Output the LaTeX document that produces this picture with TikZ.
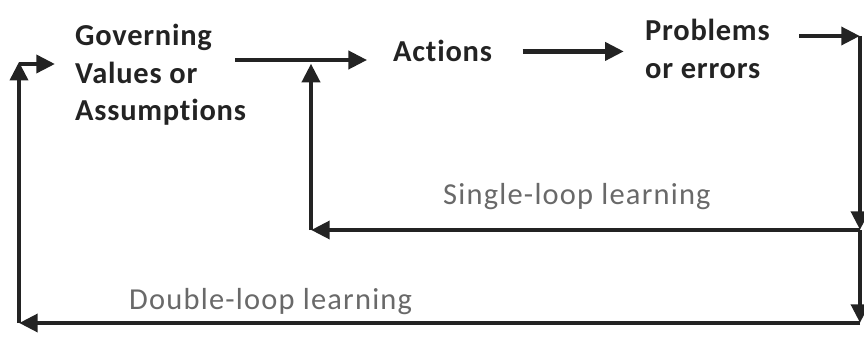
\documentclass[tikz,border=0pt]{standalone}
\usepackage{fontspec}
\setmainfont{Carlito}[Ligatures=NoCommon]
\usepackage{tikz}
\usetikzlibrary{arrows.meta,positioning}
\definecolor{inkdark}{RGB}{35,35,35}
\definecolor{loopgray}{RGB}{105,105,105}

\begin{document}
\begin{tikzpicture}[x=0.03cm,y=-0.03cm,>={Triangle[length=16pt,width=15pt]},
  box/.style={inner sep=0pt,align=left,text=inkdark,
    font=\fontsize{26}{32}\selectfont\bfseries\addfontfeature{LetterSpace=2.5}},
  looplabel/.style={inner sep=0pt,text=loopgray,
    font=\fontsize{26}{30}\selectfont\addfontfeature{LetterSpace=4}},
  flow/.style={->,line width=4pt,draw=inkdark}]
  \useasboundingbox (0,0) rectangle (864,338);
  % labels of the three stages
  \node[box,anchor=north west] (gov) at (75,24) {Governing\\Values or\\Assumptions};
  \node[box,anchor=base west] (act) at (393,62) {Actions};
  \node[box,anchor=north west] (prob) at (645,19) {Problems\\or errors};
  \node[looplabel,anchor=base west] (single) at (443,204) {Single-loop learning};
  \node[looplabel,anchor=base west] (double) at (129,309) {Double-loop learning};
  % corners of the two loops
  \coordinate (ga) at (235,60);
  \coordinate (tr) at (860,36);
  \coordinate (sr) at (860,230);
  \coordinate (sl) at (311,230);
  \coordinate (dr) at (860,323);
  \coordinate (dl) at (19,323);
  \coordinate (gl) at (19,64);
  % forward path
  \draw[flow,shorten >=22pt] (ga) -- (ga -| act.west);
  \draw[flow,shorten <=26pt,shorten >=18pt] (act.east) -- (act.east -| prob.west);
  \draw[flow,shorten <=25pt] (prob.east |- tr) -- (tr);
  \draw[flow] (tr) -- (sr);
  \draw[flow] (sr) -- (dr);
  % single loop
  \draw[flow] (sr) -- (sl);
  \draw[flow,shorten >=3pt] (sl) -- (sl |- ga);
  % double loop
  \draw[flow] (dr) -- (dl);
  \draw[flow,shorten >=-2pt] (dl) -- (gl);
  \draw[flow,shorten >=17pt] (gl) -- (gl -| gov.west);
\end{tikzpicture}
\end{document}
